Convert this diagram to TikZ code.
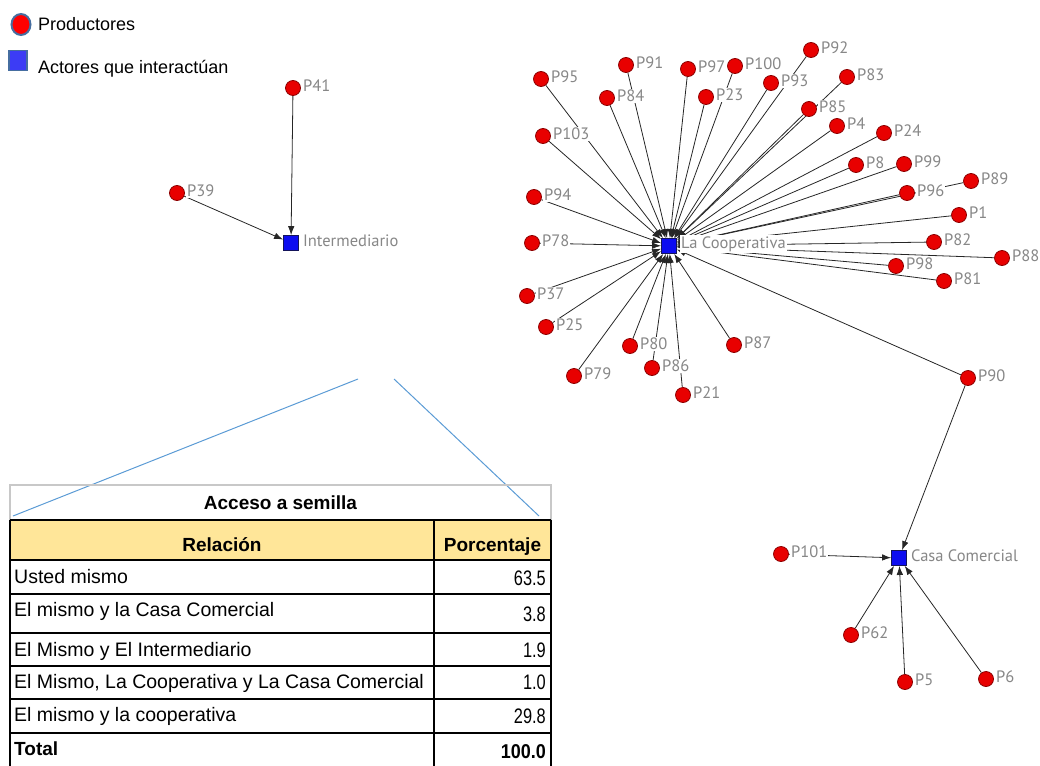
\documentclass[tikz,border=0pt]{standalone}
\usepackage{fontspec}
\setmainfont{Liberation Sans}
\newfontfamily\netfont{PT Sans}
\newfontfamily\numfont[FakeStretch=0.78]{Liberation Sans}
\newfontfamily\totfont[FakeStretch=0.9]{Liberation Sans}
\usetikzlibrary{arrows.meta,shapes.geometric}
\pgfdeclarelayer{bg}
\pgfsetlayers{bg,main}

\definecolor{prodred}{RGB}{232,0,0}
\definecolor{prodedge}{RGB}{140,0,0}
\definecolor{actblue}{RGB}{12,12,240}
\definecolor{actedge}{RGB}{20,20,90}
\definecolor{lblgray}{RGB}{135,135,135}
\definecolor{hdrfill}{RGB}{255,230,153}
\definecolor{callout}{RGB}{91,155,213}
\definecolor{titlegray}{RGB}{200,200,200}
\definecolor{legred}{RGB}{255,0,0}
\definecolor{legedge}{RGB}{70,110,160}
\definecolor{legblue}{RGB}{60,60,245}

\tikzset{
  prod/.style={circle, fill=prodred, draw=prodedge, line width=0.8pt,
    minimum size=15pt, inner sep=0pt},
  actor/.style={rectangle, fill=actblue, draw=actedge, line width=0.8pt,
    minimum size=15pt, inner sep=0pt},
  plabel/.style={font=\netfont\fontsize{16.5}{18}\selectfont, text=lblgray,
    fill=white, inner sep=1pt, label distance=1pt, yshift=2pt},
  tie/.style={draw=black!85, line width=0.8pt,
    -{Latex[length=9pt,width=6.5pt]}},
  legtext/.style={font=\fontsize{18}{21}\selectfont, anchor=base west, inner sep=0pt},
  celltext/.style={font=\fontsize{19.5}{22}\selectfont, anchor=base west, inner sep=0pt},
  cellnum/.style={font=\numfont\fontsize{21}{24}\selectfont, anchor=base east, inner sep=0pt},
  headtext/.style={font=\bfseries\fontsize{19}{22}\selectfont, anchor=base, inner sep=0pt},
  gridline/.style={draw=black, line width=1.6pt},
  calloutline/.style={draw=callout, line width=1pt},
}

\begin{document}
\begin{tikzpicture}[x=1pt, y=-1pt]
\useasboundingbox (0,0) rectangle (1040,765);

% ---------- legend ----------
\node[ellipse, minimum width=19pt, minimum height=21pt, inner sep=0pt,
      fill=legred, draw=legedge, line width=2pt] (legprod) at (21,24.5) {};
\node[legtext] (legprodtxt) at (38,30.7) {Productores};
\node[rectangle, minimum width=18pt, minimum height=20pt, inner sep=0pt,
      fill=legblue, draw=legedge, line width=1.5pt] (legact) at (18,60.5) {};
\node[legtext] (legacttxt) at (38,74) {Actores que interactúan};

% ---------- actors ----------
\node[actor, label={[plabel, label distance=3pt]right:Intermediario}] (inter) at (291,243) {};
\node[actor, label={[plabel, label distance=3pt]right:La Cooperativa}] (coop) at (669,246) {};
\node[actor, label={[plabel, label distance=3pt]right:Casa Comercial}] (casa) at (899,558) {};

% ---------- producers ----------
\foreach \n/\x/\y in {
  P41/293/88, P39/177/193,
  P95/541/79, P91/626/65, P84/607/98, P97/688/69, P100/735/66, P23/706/97,
  P93/771/83, P92/811/50, P83/847/77, P85/809/109, P4/837/126, P24/884/133,
  P8/856/165, P99/904/164, P89/971/181, P96/907/193, P1/959/215, P82/934/242,
  P88/1002/258, P98/896/266, P81/944/281, P103/543/136, P94/534/197,
  P78/532/243, P37/527/296, P25/546/327, P79/574/376, P80/630/346,
  P86/652/368, P21/683/395, P87/734/345, P90/968/378,
  P101/781/554, P62/851/635, P5/905/682, P6/986/679}
  \node[prod, label={[plabel]right:\n}] (\n) at (\x,\y) {};

% ---------- ties ----------
\begin{pgfonlayer}{bg}
  \foreach \n in {P41, P39}
    \draw[tie] (\n) -- (inter);
  \foreach \n in {P95, P91, P84, P97, P100, P23, P93, P92, P83, P85, P4, P24,
                  P8, P99, P89, P96, P1, P82, P88, P98, P81, P103, P94, P78,
                  P37, P25, P79, P80, P86, P21, P87, P90}
    \draw[tie] (\n) -- (coop);
  \foreach \n in {P90, P101, P62, P5, P6}
    \draw[tie] (\n) -- (casa);
\end{pgfonlayer}

% ---------- callout lines ----------
\coordinate (cfromL) at (358,379);
\coordinate (ctoL) at (13,516);
\coordinate (cfromR) at (394,379);
\coordinate (ctoR) at (539,516);
\draw[calloutline] (cfromL) -- (ctoL);
\draw[calloutline] (cfromR) -- (ctoR);

% ---------- table ----------
\fill[hdrfill] (10,520) rectangle (551,560);
\draw[titlegray, line width=1.5pt] (10,485) rectangle (551,520);
\foreach \yy in {520,560,594,633,666,699,733}
  \draw[gridline] (10,\yy) -- (551,\yy);
\foreach \xx in {10,434,551}
  \draw[gridline] (\xx,520) -- (\xx,767);

\node[headtext] (ttitle) at (280.5,509.3) {Acceso a semilla};
\node[headtext] (hrel) at (222,551) {Relación};
\node[headtext] (hpct) at (492.5,551) {Porcentaje};

\node[celltext] (r1) at (14,583.3) {Usted mismo};
\node[celltext] (r2) at (14,616.7) {El mismo y la Casa Comercial};
\node[celltext] (r3) at (14,656) {El Mismo y El Intermediario};
\node[celltext] (r4) at (14,688.3) {El Mismo, La Cooperativa y La Casa Comercial};
\node[celltext] (r5) at (14,721.7) {El mismo y la cooperativa};
\node[celltext, font=\bfseries\fontsize{19}{22}\selectfont] (r6) at (14,755) {Total};

\node[cellnum] (v1) at (546,585) {63.5};
\node[cellnum] (v2) at (546,621.7) {3.8};
\node[cellnum] (v3) at (546,657.7) {1.9};
\node[cellnum] (v4) at (546,689.3) {1.0};
\node[cellnum] (v5) at (546,723.3) {29.8};
\node[cellnum, font=\totfont\bfseries\fontsize{20}{23}\selectfont] (v6) at (546,758.3) {100.0};
\end{tikzpicture}
\end{document}
